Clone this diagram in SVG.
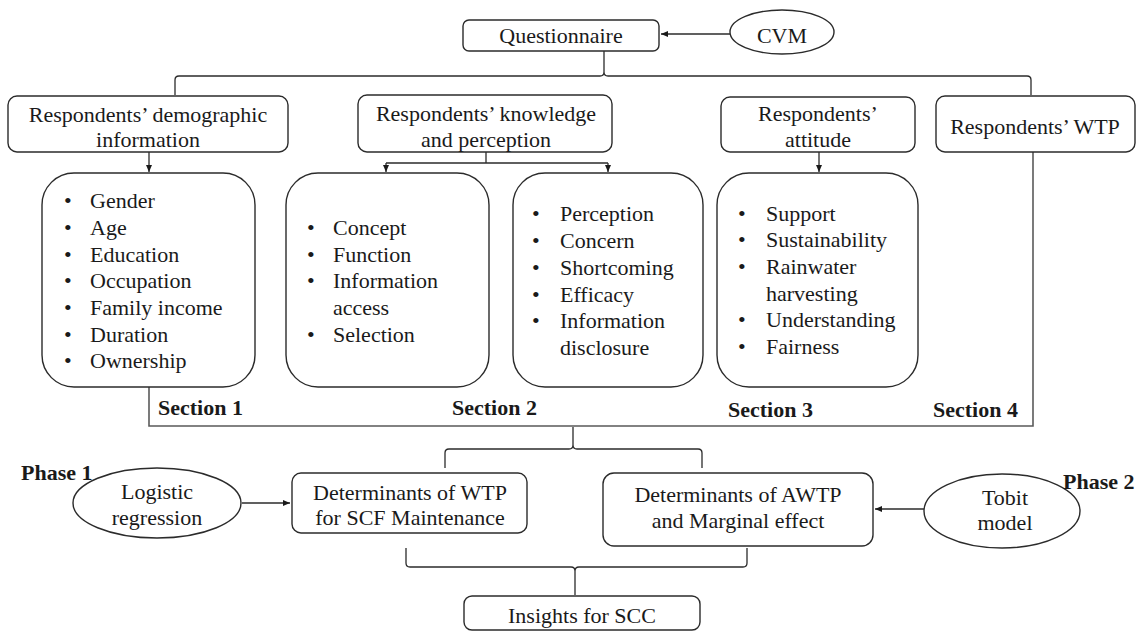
<svg xmlns="http://www.w3.org/2000/svg" width="1146" height="631" viewBox="0 0 1146 631">
<style>
.box{fill:#fff;stroke:#2b2b2b;stroke-width:1.4}
.ln{fill:none;stroke:#2b2b2b;stroke-width:1.3}
.fr{fill:none;stroke:#5a5a5a;stroke-width:1.6}
.t{font-family:'Liberation Serif','Tinos','Times New Roman','Nimbus Roman','DejaVu Serif',serif;font-size:22px;fill:#1a1a1a}
.c{text-anchor:middle}
.b{font-weight:bold}
</style>
<defs>
<marker id="ah" markerWidth="8" markerHeight="8" refX="7" refY="4" orient="auto" markerUnits="userSpaceOnUse">
<path d="M0,1 L7,4 L0,7 Z" fill="#1a1a1a"/>
</marker>
</defs>
<rect width="1146" height="631" fill="#fff"/>

<g id="connectors">
<line class="ln" x1="730" y1="34" x2="661" y2="34" marker-end="url(#ah)"/>
<path class="ln" d="M175,95 L175,80 Q175,76 179,76 L600,76 Q604,76 604,72 L604,51 M604,72 Q604,76 608,76 L1027,76 Q1031,76 1031,80 L1031,95"/>
<line class="ln" x1="149" y1="152" x2="149" y2="172" marker-end="url(#ah)"/>
<path class="ln" d="M486,152 L486,163 M386,163 L608,163"/>
<line class="ln" x1="386" y1="163" x2="386" y2="172" marker-end="url(#ah)"/>
<line class="ln" x1="608" y1="163" x2="608" y2="172" marker-end="url(#ah)"/>
<line class="ln" x1="819" y1="152" x2="819" y2="172" marker-end="url(#ah)"/>
<path class="fr" d="M149,387 L149,426 L1033,426 L1033,152"/>
<path class="ln" d="M445,468 L445,453 Q445,449 449,449 L569,449 Q573,449 573,445 L573,427 M573,445 Q573,449 577,449 L698,449 Q702,449 702,453 L702,468"/>
<line class="ln" x1="242" y1="503" x2="290" y2="503" marker-end="url(#ah)"/>
<line class="ln" x1="924" y1="509" x2="875" y2="509" marker-end="url(#ah)"/>
<path class="ln" d="M406,548 L406,563 Q406,567 410,567 L571,567 Q575,567 575,571 L575,595 M575,571 Q575,567 579,567 L743,567 Q747,567 747,563 L747,548"/>
</g>

<g class="t">
<g id="questionnaire">
<rect class="box" x="463" y="20" width="196" height="31" rx="6"/>
<text class="c" x="561" y="43">Questionnaire</text>
</g>
<g id="cvm">
<ellipse class="box" cx="782" cy="32" rx="52" ry="22"/>
<text class="c" x="782" y="43">CVM</text>
</g>

<g id="demographic">
<rect class="box" x="8" y="96" width="280" height="56" rx="9"/>
<text class="c" x="148" y="122">Respondents’ demographic</text>
<text class="c" x="148" y="147">information</text>
</g>
<g id="knowledge">
<rect class="box" x="358" y="95" width="254" height="57" rx="9"/>
<text class="c" x="486" y="121">Respondents’ knowledge</text>
<text class="c" x="486" y="147">and perception</text>
</g>
<g id="attitude">
<rect class="box" x="721" y="97" width="194" height="55" rx="9"/>
<text class="c" x="818" y="121">Respondents’</text>
<text class="c" x="818" y="147">attitude</text>
</g>
<g id="wtp">
<rect class="box" x="936" y="96" width="199" height="56" rx="9"/>
<text class="c" x="1035" y="134">Respondents’ WTP</text>
</g>

<g id="list1">
<rect class="box" x="42" y="173" width="213" height="214" rx="32"/>
<text x="64" y="208">•</text><text x="90" y="208">Gender</text>
<text x="64" y="235">•</text><text x="90" y="235">Age</text>
<text x="64" y="262">•</text><text x="90" y="262">Education</text>
<text x="64" y="288">•</text><text x="90" y="288">Occupation</text>
<text x="64" y="315">•</text><text x="90" y="315">Family income</text>
<text x="64" y="342">•</text><text x="90" y="342">Duration</text>
<text x="64" y="368">•</text><text x="90" y="368">Ownership</text>
</g>
<g id="list2">
<rect class="box" x="286" y="173" width="203" height="214" rx="32"/>
<text x="307" y="235">•</text><text x="333" y="235">Concept</text>
<text x="307" y="262">•</text><text x="333" y="262">Function</text>
<text x="307" y="288">•</text><text x="333" y="288">Information</text>
<text x="333" y="315">access</text>
<text x="307" y="342">•</text><text x="333" y="342">Selection</text>
</g>
<g id="list3">
<rect class="box" x="513" y="173" width="190" height="214" rx="32"/>
<text x="532" y="221">•</text><text x="560" y="221">Perception</text>
<text x="532" y="248">•</text><text x="560" y="248">Concern</text>
<text x="532" y="275">•</text><text x="560" y="275">Shortcoming</text>
<text x="532" y="302">•</text><text x="560" y="302">Efficacy</text>
<text x="532" y="328">•</text><text x="560" y="328">Information</text>
<text x="560" y="355">disclosure</text>
</g>
<g id="list4">
<rect class="box" x="717" y="173" width="201" height="214" rx="32"/>
<text x="738" y="221">•</text><text x="766" y="221">Support</text>
<text x="738" y="247">•</text><text x="766" y="247">Sustainability</text>
<text x="738" y="274">•</text><text x="766" y="274">Rainwater</text>
<text x="766" y="301">harvesting</text>
<text x="738" y="327">•</text><text x="766" y="327">Understanding</text>
<text x="738" y="354">•</text><text x="766" y="354">Fairness</text>
</g>

<g id="sections">
<text class="b" x="158" y="415">Section 1</text>
<text class="b" x="452" y="415">Section 2</text>
<text class="b" x="728" y="417">Section 3</text>
<text class="b" x="933" y="417">Section 4</text>
</g>

<g id="logistic">
<text class="b" x="21" y="480">Phase 1</text>
<ellipse class="box" cx="157" cy="503" rx="84" ry="35"/>
<text class="c" x="157" y="499">Logistic</text>
<text class="c" x="157" y="525">regression</text>
</g>
<g id="det-wtp">
<rect class="box" x="292" y="473" width="235" height="60" rx="9"/>
<text class="c" x="410" y="500">Determinants of WTP</text>
<text class="c" x="410" y="525">for SCF Maintenance</text>
</g>
<g id="det-awtp">
<rect class="box" x="603" y="473" width="270" height="73" rx="11"/>
<text class="c" x="738" y="502">Determinants of AWTP</text>
<text class="c" x="738" y="528">and Marginal effect</text>
</g>
<g id="tobit">
<ellipse class="box" cx="1002" cy="511" rx="78" ry="37"/>
<text class="c" x="1005" y="505">Tobit</text>
<text class="c" x="1005" y="530">model</text>
<text class="b" x="1063" y="489">Phase 2</text>
</g>
<g id="insights">
<rect class="box" x="464" y="596" width="236" height="34" rx="8"/>
<text class="c" x="582" y="623">Insights for SCC</text>
</g>
</g>
</svg>
